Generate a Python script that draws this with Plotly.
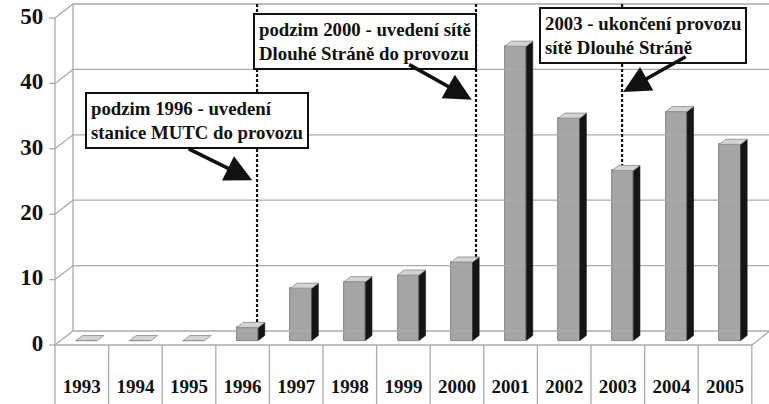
import plotly.graph_objects as go

# ---- data -------------------------------------------------------------
years = [1993, 1994, 1995, 1996, 1997, 1998, 1999, 2000, 2001, 2002, 2003, 2004, 2005]
values = [0, 0, 0, 2, 8, 9, 10, 12, 45, 34, 26, 35, 30]
y_ticks = [0, 10, 20, 30, 40, 50]

event_years = [1996, 2000, 2003]
event_texts = [
    "podzim 1996 - uvedení<br>stanice MUTC do provozu",
    "podzim 2000 - uvedení sítě<br>Dlouhé Stráně do provozu",
    "2003 - ukončení provozu<br>sítě Dlouhé Stráně",
]

# ---- pseudo-3D geometry (data units) -----------------------------------
N = len(years)
Y_MAX = 50
DX, DY = 0.336, 2.14          # offset of the back wall against the front plane
BAR_LEFT, BAR_W = 0.285, 0.40  # bar placement inside a category
D0, D1 = 0.32, 0.68            # bar depth (fraction of the floor depth)
X_RANGE = [-1.026, 13.321]
Y_RANGE = [-9.02, 52.75]
Y_BOTTOM = Y_RANGE[0]

GRID = "#ababab"
FONT = "Liberation Serif"

fig = go.Figure()

# back wall, side wall and floor grid
gx, gy = [], []
for t in y_ticks:
    gx += [0, DX, N + DX, None]
    gy += [t, t + DY, t + DY, None]
gx += [DX, DX, None]
gy += [DY, Y_MAX + DY, None]
fig.add_trace(go.Scatter(x=gx, y=gy, mode="lines", line=dict(color=GRID, width=1.3),
                         hoverinfo="skip", showlegend=False))

# front axis, tick marks, floor edge and category dividers
ax_x, ax_y = [0, 0, None], [Y_MAX, Y_BOTTOM, None]
for t in y_ticks:
    ax_x += [-0.11, 0, None]
    ax_y += [t, t, None]
ax_x += [0, N, N + DX, None]
ax_y += [0, 0, DY, None]
for i in range(1, N + 1):
    ax_x += [i, i, None]
    ax_y += [0, Y_BOTTOM, None]
fig.add_trace(go.Scatter(x=ax_x, y=ax_y, mode="lines", line=dict(color=GRID, width=1.3),
                         hoverinfo="skip", showlegend=False))

# vertical event markers
event_offsets = [0.77, 0.855, 0.58]
event_x = []
ex, ey = [], []
for yr, off in zip(event_years, event_offsets):
    i = years.index(yr)
    x = i + off
    event_x.append(x)
    ex += [x, x, None]
    ey += [Y_MAX + DY, values[i] + D1 * DY, None]
fig.add_trace(go.Scatter(x=ex, y=ey, mode="lines",
                         line=dict(color="#111111", width=2.2, dash="3px,2px"),
                         hoverinfo="skip", showlegend=False))

# side and top faces of the bars
sx, sy, tx, ty = [], [], [], []
for i, v in enumerate(values):
    xl = i + BAR_LEFT
    xr = xl + BAR_W
    if v > 0:
        sx += [xr + D0 * DX, xr + D1 * DX, xr + D1 * DX, xr + D0 * DX, xr + D0 * DX, None]
        sy += [D0 * DY, D1 * DY, v + D1 * DY, v + D0 * DY, D0 * DY, None]
    tx += [xl + D0 * DX, xr + D0 * DX, xr + D1 * DX, xl + D1 * DX, xl + D0 * DX, None]
    ty += [v + D0 * DY, v + D0 * DY, v + D1 * DY, v + D1 * DY, v + D0 * DY, None]
fig.add_trace(go.Scatter(x=sx, y=sy, mode="lines", fill="toself", fillcolor="#151515",
                         line=dict(color="#151515", width=0.6),
                         hoverinfo="skip", showlegend=False))
fig.add_trace(go.Scatter(x=tx, y=ty, mode="lines", fill="toself", fillcolor="#d4d4d4",
                         line=dict(color="#8a8a8a", width=0.8),
                         hoverinfo="skip", showlegend=False))

# y tick labels and category labels
fig.add_trace(go.Scatter(x=[-0.22] * len(y_ticks), y=y_ticks, mode="text",
                         text=[str(t) for t in y_ticks], textposition="middle left",
                         textfont=dict(family=FONT, size=23, color="#111111", weight="bold"),
                         hoverinfo="skip", showlegend=False))
fig.add_trace(go.Scatter(x=[i + 0.5 for i in range(N)], y=[-6.6] * N, mode="text",
                         text=[str(y) for y in years], textposition="middle center",
                         textfont=dict(family=FONT, size=19, color="#111111", weight="bold"),
                         hoverinfo="skip", showlegend=False))

# front faces of the bars
fig.add_trace(go.Bar(
    x=[i + BAR_LEFT + BAR_W / 2 + D0 * DX for i in range(N)],
    y=values,
    base=[D0 * DY] * N,
    width=BAR_W,
    marker=dict(color="#a5a5a5", line=dict(color="#707070", width=0.8)),
    hoverinfo="skip", showlegend=False,
))

# annotation boxes with arrows
box_pos = [(0.56, 38.7), (3.69, 50.8), (9.03, 51.7)]
arrow_tip_dx = [-0.09, -0.08, 0.02]
arrow_tip_y = [25.2, 37.5, 38.7]
arrow_tail = [(-65, -32), (-64, -36), (64, -36)]
annotations = []
for (bx, by), txt in zip(box_pos, event_texts):
    annotations.append(dict(
        x=bx, y=by, xref="x", yref="y", xanchor="left", yanchor="top",
        text=txt, align="left", showarrow=False,
        font=dict(family=FONT, size=18.8, color="#111111", weight="bold"),
        bgcolor="white", bordercolor="#111111", borderwidth=2, borderpad=4,
    ))
for x, dxx, yy, (tax, tay) in zip(event_x, arrow_tip_dx, arrow_tip_y, arrow_tail):
    annotations.append(dict(
        x=x + dxx, y=yy, xref="x", yref="y", text="", showarrow=True,
        ax=tax, ay=tay, arrowhead=2, arrowsize=1.5, arrowwidth=3.6,
        arrowcolor="#111111",
    ))

fig.update_layout(
    width=769, height=404, autosize=False,
    margin=dict(l=0, r=0, t=0, b=0),
    paper_bgcolor="white", plot_bgcolor="white",
    xaxis=dict(range=X_RANGE, visible=False, fixedrange=True),
    yaxis=dict(range=Y_RANGE, visible=False, fixedrange=True),
    annotations=annotations,
    bargap=0,
)

fig.write_html("out.html")
